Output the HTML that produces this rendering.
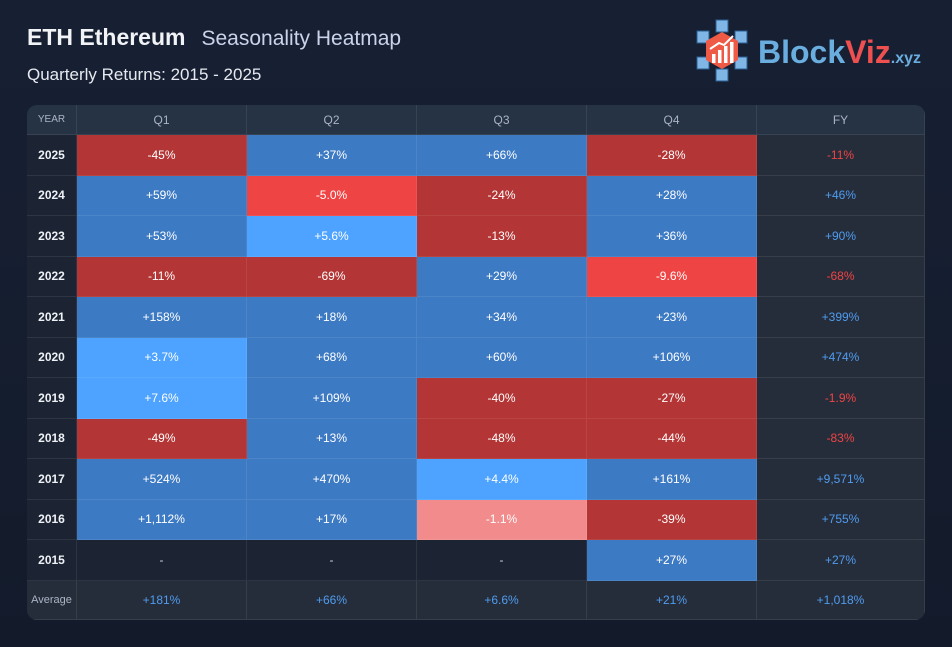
<!DOCTYPE html>
<html><head><meta charset="utf-8"><style>
body{margin:0;width:952px;height:647px;overflow:hidden;background:linear-gradient(180deg,#172033,#131b2b);font-family:"Liberation Sans","DejaVu Sans",sans-serif;color:#fff;position:relative}
.t1{position:absolute;left:27px;top:24px;font-size:23px;font-weight:bold;color:#f1f3f6}
.t1 span{font-weight:normal;color:#c9d3ea;font-size:21px;margin-left:16px}
.t2{position:absolute;left:27px;top:65px;font-size:17px;color:#e6e9ef}
#tbl{position:absolute;left:27px;top:105px;width:898px;height:515px;border-radius:10px;overflow:hidden;background:#1c2433}
.c{position:absolute;display:flex;align-items:center;justify-content:center;font-size:12px;box-sizing:border-box;border-right:1px solid rgba(255,255,255,0.08);border-bottom:1px solid rgba(255,255,255,0.08)}
.logo{position:absolute;left:694px;top:18px}
</style></head><body>
<div class="t1">ETH Ethereum<span>Seasonality Heatmap</span></div>
<div class="t2">Quarterly Returns: 2015 - 2025</div>
<div class="logo">
<svg width="235" height="66" viewBox="0 0 235 66">
<g fill="#7fb6e6" stroke="#2a5f92" stroke-width="1">
<rect x="22" y="2" width="12" height="12"/><rect x="3" y="13" width="12" height="12"/><rect x="41" y="13" width="12" height="12"/>
<rect x="3" y="39" width="12" height="12"/><rect x="41" y="39" width="12" height="12"/><rect x="22" y="51" width="12" height="12"/></g>
<polygon points="28,14 44,23 44,42 28,51 12,42 12,23" fill="#ee5a45"/>
<g fill="#fff"><rect x="18" y="36" width="3.5" height="9"/><rect x="24" y="32" width="3.5" height="13"/><rect x="30" y="28" width="3.5" height="17"/><rect x="36" y="24" width="3.5" height="21"/></g>
<polyline points="16,31 25,25 30,27 39,18" stroke="#fff" stroke-width="2" fill="none"/>
<text x="64" y="45" font-size="32" font-weight="bold" fill="#6aaee0" font-family="Liberation Sans,sans-serif">Block<tspan fill="#ee4f4f">Viz</tspan><tspan font-size="16" fill="#6aaee0">.xyz</tspan></text>
</svg></div>
<div id="tbl"></div>
<script>
const years=["2025","2024","2023","2022","2021","2020","2019","2018","2017","2016","2015"];
const q1=[-45,59,53,-11,158,3.7,7.6,-49,524,1112,null];
const q2=[37,-5.0,5.6,-69,18,68,109,13,470,17,null];
const q3=[66,-24,-13,29,34,60,-40,-48,4.4,-1.1,null];
const q4=[-28,28,36,-9.6,23,106,-27,-44,161,-39,27];
const fy=[-11,46,90,-68,399,474,-1.9,-83,9571,755,27];
const avg=[181,66,6.6,21,1018];
const headers=["YEAR","Q1","Q2","Q3","Q4","FY"];
const T=document.getElementById('tbl');
const colX=[0,50,220,390,560,730,898];
const headH=30,rowH=40.5;
function fmt(v){if(v===null)return '-';const a=Math.abs(v);let s=a<10?a.toFixed(1):Math.round(a).toLocaleString('en-US');return (v<0?'-':'+')+s+'%';}
function col(v){if(v===null)return '#1c2433';if(v<=-10)return '#b33535';if(v<-2)return '#ef4444';if(v<0)return '#f28b8b';if(v<10)return '#4da3ff';return '#3d7ac4';}
function cell(ci,y,h,txt,bg,color,bold,name){const d=document.createElement('div');d.className='c';


d.style.left=colX[ci]+'px';d.style.width=(colX[ci+1]-colX[ci])+'px';d.style.top=y+'px';d.style.height=h+'px';d.style.background=bg;d.style.color=color;if(bold)d.style.fontWeight='bold';d.textContent=txt;T.appendChild(d);return d;}
headers.forEach((h,i)=>cell(i,0,headH,h,'#263345','#aab4c4',false,'header-'+h.toLowerCase()));
T.children[0].style.fontSize='10px';
const qs=[q1,q2,q3,q4];
years.forEach((yr,r)=>{const y=headH+r*rowH;
cell(0,y,rowH,yr,'#1c2433','#eef1f5',true,'year-'+yr);
qs.forEach((q,i)=>cell(i+1,y,rowH,fmt(q[r]),col(q[r]),q[r]===null?'#cfd5df':'#fff',false,'cell-'+yr+'-q'+(i+1)));
cell(5,y,rowH,fmt(fy[r]),'#262d3a',fy[r]<0?'#ef4444':'#4f9cf0',false,'fy-'+yr);});
const ay=headH+years.length*rowH;
const al=cell(0,ay,515-ay,'Average','#262d3a','#aab4c4',false,'average-label');
al.style.fontSize='11px';
avg.forEach((v,i)=>cell(i+1,ay,515-ay,fmt(v),'#262d3a','#4f9cf0',false,'average-'+headers[i+1].toLowerCase()));
</script>
</body></html>
